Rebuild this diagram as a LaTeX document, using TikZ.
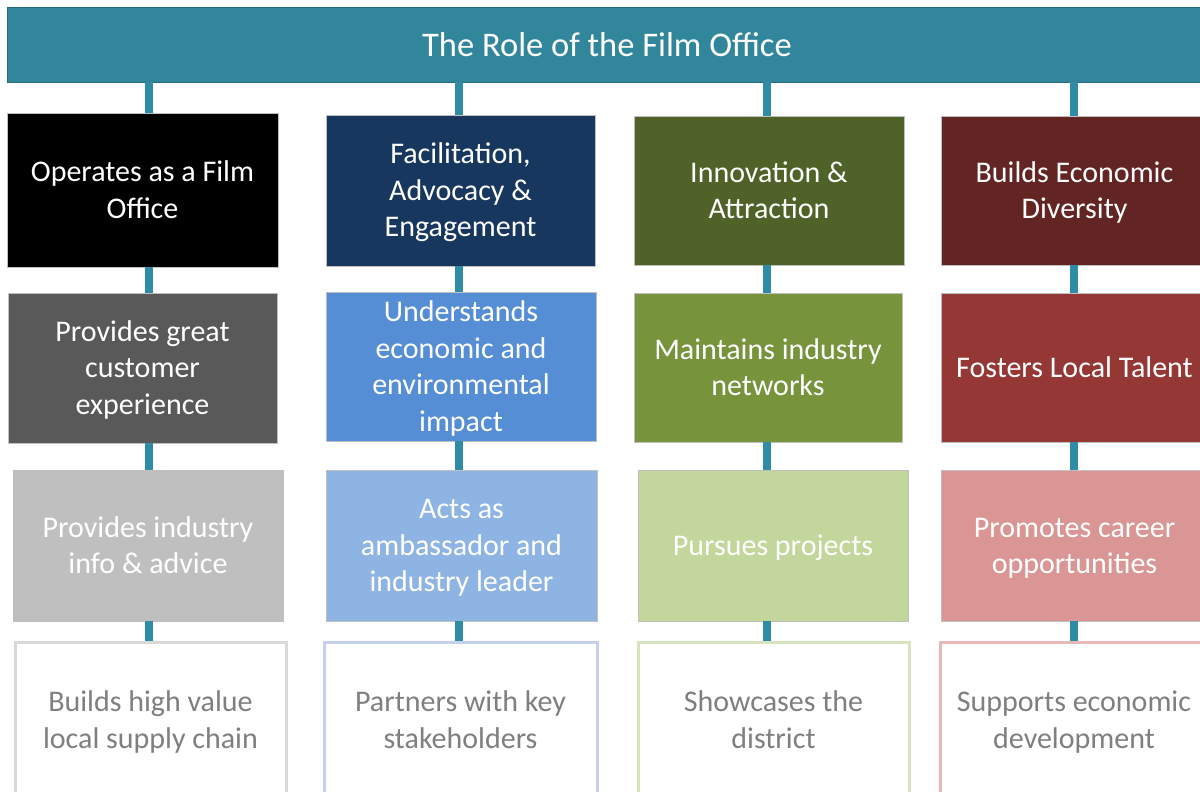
\documentclass[tikz,border=0pt]{standalone}
\usepackage{fontspec}
\setmainfont{Carlito}
\definecolor{barc}{HTML}{31869B}
\definecolor{connc}{HTML}{2E8CA6}
\definecolor{aA}{HTML}{000000}
\definecolor{aB}{HTML}{595959}
\definecolor{aC}{HTML}{BFBFBF}
\definecolor{aD}{HTML}{D9D9D9}
\definecolor{bA}{HTML}{17375E}
\definecolor{bB}{HTML}{558ED5}
\definecolor{bC}{HTML}{8EB4E3}
\definecolor{bD}{HTML}{C6D0EC}
\definecolor{cA}{HTML}{4F6228}
\definecolor{cB}{HTML}{77933C}
\definecolor{cC}{HTML}{C3D69B}
\definecolor{cD}{HTML}{D7E4BD}
\definecolor{dA}{HTML}{632523}
\definecolor{dB}{HTML}{953735}
\definecolor{dC}{HTML}{D99694}
\definecolor{dD}{HTML}{E6B9B8}
\definecolor{txtgrey}{HTML}{7F7F7F}
\tikzset{
  box/.style={rectangle, draw=black!25, line width=0.8pt, inner sep=0pt, align=center,
    font=\fontsize{30}{36.6}\selectfont, text=white},
  lastbox/.style={box, fill=white, text=txtgrey, line width=3pt},
  conn/.style={draw=connc, line width=8pt},
}
\newcommand{\mkbox}[7]{% name, x1, y1, x2, y2, style, text
  \node[#6, minimum width={#4-#2}, minimum height={#5-#3}] (#1) at ({(#2+#4)/2},{(#3+#5)/2}) {\raisebox{-2.5pt}[\height][\depth]{\begin{tabular}{@{}c@{}}#7\end{tabular}}};}
\begin{document}
\begin{tikzpicture}[x=1pt,y=-1pt]
\useasboundingbox (0,0) rectangle (1200,792);
\clip (0,0) rectangle (1200,792);
\node[rectangle, fill=barc, draw=barc!80!black, line width=0.6pt, minimum width=1200, minimum height=75, inner sep=0pt,
  text=white, font=\fontsize{34.5}{40}\selectfont] (bar) at (607,44.5) {The Role of the Film Office};
% column 1
\mkbox{aa}{7}{113}{278}{267}{box, fill=aA}{Operates as a Film\\Office}
\mkbox{ab}{8}{293}{277}{443}{box, fill=aB}{Provides great\\customer\\experience}
\mkbox{ac}{13}{470}{283}{621}{box, fill=aC}{Provides industry\\info \& advice}
\mkbox{ad}{15}{642}{286}{798}{lastbox, draw=aD}{Builds high value\\local supply chain}
% column 2
\mkbox{ba}{326}{115}{595}{266}{box, fill=bA}{Facilitation,\\Advocacy \&\\Engagement}
\mkbox{bb}{326}{292}{596}{441}{box, fill=bB}{Understands\\economic and\\environmental\\impact}
\mkbox{bc}{326}{470}{597}{621}{box, fill=bC}{Acts as\\ambassador and\\industry leader}
\mkbox{bd}{324}{642}{597}{798}{lastbox, draw=bD}{Partners with key\\stakeholders}
% column 3
\mkbox{ca}{634}{116}{904}{265}{box, fill=cA}{Innovation \&\\Attraction}
\mkbox{cb}{634}{293}{902}{442}{box, fill=cB}{Maintains industry\\networks}
\mkbox{cc}{638}{470}{908}{621}{box, fill=cC}{Pursues projects}
\mkbox{cd}{638}{642}{909}{798}{lastbox, draw=cD}{Showcases the\\district}
% column 4
\mkbox{da}{941}{116}{1208}{265}{box, fill=dA}{Builds Economic\\Diversity}
\mkbox{db}{941}{293}{1208}{442}{box, fill=dB}{Fosters Local Talent}
\mkbox{dc}{941}{470}{1208}{621}{box, fill=dC}{Promotes career\\opportunities}
\mkbox{dd}{940}{642}{1208}{798}{lastbox, draw=dD}{Supports economic\\development}
% connector x positions
\coordinate (k1) at (149,0);
\coordinate (k2) at (459,0);
\coordinate (k3) at (767,0);
\coordinate (k4) at (1074,0);
\foreach \c/\k in {a/k1,b/k2,c/k3,d/k4}{
  \draw[conn] (bar.south -| \k) -- (\c a.north -| \k);
  \draw[conn] (\c a.south -| \k) -- (\c b.north -| \k);
  \draw[conn] (\c b.south -| \k) -- (\c c.north -| \k);
  \draw[conn] (\c c.south -| \k) -- (\c d.north -| \k);
}
\end{tikzpicture}
\end{document}
